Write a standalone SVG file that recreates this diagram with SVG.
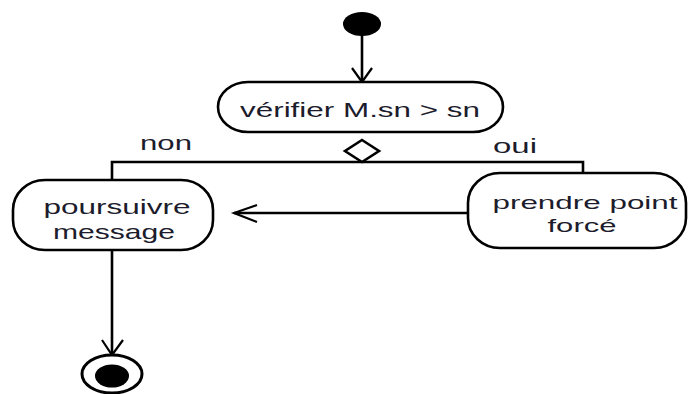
<svg xmlns="http://www.w3.org/2000/svg" width="688" height="394" viewBox="0 0 688 394">
  <style>
    .bg { fill: #ffffff; }
    .action { fill: #ffffff; stroke: #000000; stroke-width: 2.6; }
    .label { font-family: "Liberation Sans", Arial, sans-serif; font-size: 21px; fill: #1c1c2c; text-anchor: middle; }
    .small { font-size: 19px; }
    .edge { fill: none; stroke: #000000; stroke-width: 2.6; }
    .head { fill: none; stroke: #000000; stroke-width: 2.2; stroke-linejoin: miter; }
    .dot { fill: #000000; }
    .ring { fill: #ffffff; stroke: #000000; stroke-width: 3; }
  </style>
  <rect class="bg" x="0" y="0" width="688" height="394"/>

  <g id="connectors">
    <!-- start to check -->
    <line class="edge" x1="362" y1="35" x2="362" y2="81"/>
    <polyline class="head" points="352,68 362,82 372,68"/>
    <!-- decision branches -->
    <polyline class="edge" points="112,180 112,162 583,162 583,173"/>
    <!-- forced point back to continue -->
    <line class="edge" x1="234" y1="213" x2="468" y2="213"/>
    <polyline class="head" points="257,205 234,213 257,222"/>
    <!-- continue to end -->
    <line class="edge" x1="112" y1="250" x2="112" y2="354"/>
    <polyline class="head" points="102,340 112,355 123,340"/>
  </g>

  <g id="start">
    <ellipse class="dot" cx="362" cy="24" rx="19" ry="12"/>
  </g>

  <g id="check">
    <rect class="action" x="218" y="82" width="285" height="50" rx="30" ry="25"/>
    <text class="label" x="360" y="117" textLength="240" lengthAdjust="spacingAndGlyphs">vérifier M.sn &gt; sn</text>
  </g>

  <g id="decision">
    <polygon class="edge" points="362,140 379,151 362,162 345,151" style="fill:#ffffff"/>
    <text class="label" x="166" y="150" textLength="52" lengthAdjust="spacingAndGlyphs">non</text>
    <text class="label" x="515" y="153" textLength="44" lengthAdjust="spacingAndGlyphs">oui</text>
  </g>

  <g id="continue">
    <rect class="action" x="13" y="180" width="200" height="70" rx="32" ry="30"/>
    <text class="label" x="117" y="214" textLength="147" lengthAdjust="spacingAndGlyphs">poursuivre</text>
    <text class="label" x="114" y="239" textLength="122" lengthAdjust="spacingAndGlyphs">message</text>
  </g>

  <g id="forced">
    <rect class="action" x="468" y="173" width="218" height="75" rx="32" ry="30"/>
    <text class="label small" x="585" y="209" textLength="185" lengthAdjust="spacingAndGlyphs">prendre point</text>
    <text class="label small" x="582" y="232" textLength="69" lengthAdjust="spacingAndGlyphs">forcé</text>
  </g>

  <g id="end">
    <ellipse class="ring" cx="112" cy="374" rx="30" ry="19"/>
    <ellipse class="dot" cx="112" cy="376" rx="17" ry="11.5"/>
  </g>
</svg>
